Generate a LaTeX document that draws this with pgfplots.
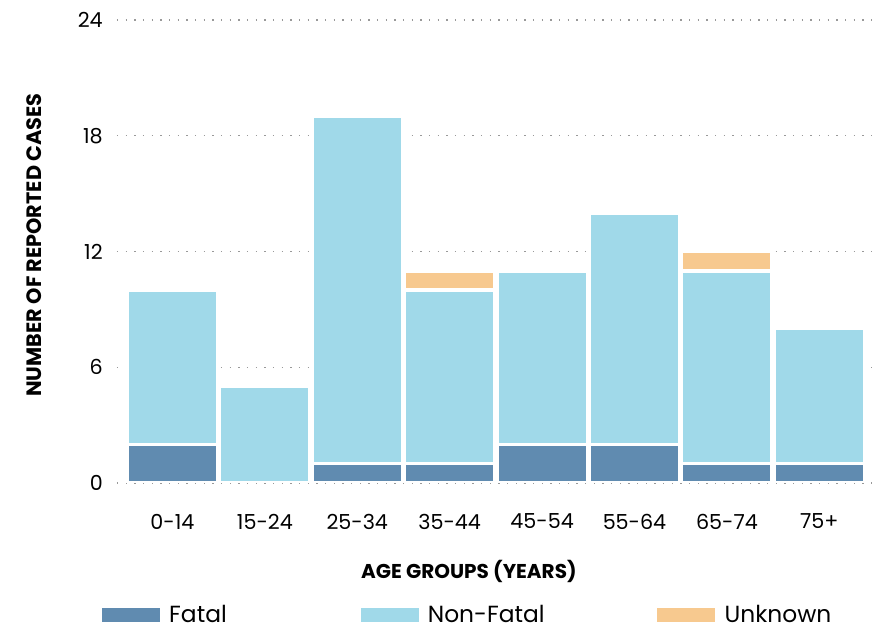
\documentclass[border=0pt]{standalone}
\usepackage{pgfplots}
\pgfplotsset{compat=1.18}
\usepackage{fontspec}
\setmainfont{Poppins}
\definecolor{cfatal}{RGB}{96,139,176}
\definecolor{cnon}{RGB}{160,217,233}
\definecolor{cunk}{RGB}{247,201,143}
\begin{document}
\begin{tikzpicture}
\useasboundingbox (-87.75pt,-111pt) rectangle (569.25pt,362.25pt);
\begin{axis}[
  at={(0,0)}, anchor=south west,
  scale only axis,
  width=566.25pt, height=347.25pt,
  ybar stacked,
  bar width=67.9pt,
  xmin=-0.6, xmax=7.57,
  ymin=0, ymax=24,
  ytick={0,6,12,18,24},
  xtick={0,...,7},
  xticklabels={0-14,15-24,25-34,35-44,45-54,55-64,65-74,75+},
  axis line style={draw=none},
  tick style={draw=none},
  ymajorgrids,
  major grid style={gray!80, line width=0.9pt, dash pattern=on 0.9pt off 5.6pt},
  /pgf/number format/assume math mode=true,
  tick label style={font=\fontsize{15.5}{18}\selectfont},
  yticklabel style={inner sep=0pt, anchor=east, xshift=-10.5pt},
  xticklabel style={inner sep=0pt, anchor=north, yshift=-23pt},
  xlabel={AGE GROUPS (YEARS)},
  ylabel={NUMBER OF REPORTED CASES},
  xlabel style={at={(axis description cs:0.466,-0.192)}, anchor=center, font=\bfseries\fontsize{15}{18}\selectfont},
  ylabel style={at={(axis description cs:-0.110,0.514)}, anchor=center, font=\bfseries\fontsize{15.6}{18}\selectfont},
  legend columns=3,
  legend style={at={(axis description cs:-0.020,-0.285)}, anchor=west, draw=none, inner sep=0pt, outer sep=0pt, column sep=0pt, nodes={inner sep=0pt, anchor=west}, font=\fontsize{17.5}{20}\selectfont},
  legend image code/.code={\fill[#1, draw=none] (0pt,-5.25pt) rectangle (43.5pt,5.25pt); \path[draw=none, fill=none] (0pt,0pt) -- (50.5pt,0pt);},
  every axis plot/.append style={draw=white, line width=2.6pt},
]
\addplot[fill=cfatal] coordinates {(0,2) (1,0) (2,1) (3,1) (4,2) (5,2) (6,1) (7,1)};
\addlegendentry{\makebox[143.5pt][l]{Fatal}}
\addplot[fill=cnon] coordinates {(0,8) (1,5) (2,18) (3,9) (4,9) (5,12) (6,10) (7,7)};
\addlegendentry{\makebox[172.1pt][l]{Non-Fatal}}
\addplot[fill=cunk] coordinates {(0,0) (1,0) (2,0) (3,1) (4,0) (5,0) (6,1) (7,0)};
\addlegendentry{Unknown}
\end{axis}
\end{tikzpicture}
\end{document}
